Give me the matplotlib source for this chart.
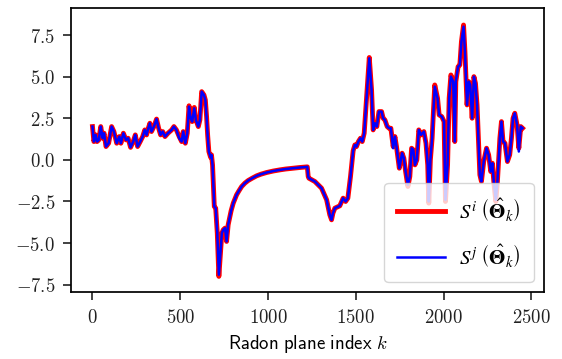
import matplotlib
matplotlib.use("Agg")
import matplotlib.pyplot as plt
from matplotlib.ticker import FuncFormatter, MultipleLocator

plt.rcParams["mathtext.fontset"] = "cm"

# Radon plane index and the two projected score curves
k = [0, 8, 18, 26, 36, 47, 58, 66, 77, 92, 109, 122, 138, 153, 162, 176, 191, 203,
     217, 232, 244, 257, 272, 286, 298, 308, 318, 327, 336, 350, 365, 377, 388, 400,
     413, 430, 451, 464, 478, 494, 508, 517, 529, 540, 550, 559, 568, 580, 589, 603,
     612, 622, 635, 643, 650, 656, 663, 673, 678, 684, 694, 702, 711, 720, 729, 737,
     745, 755, 764, 773, 779, 790, 802, 821, 835, 850, 868, 887, 910, 935, 960, 992,
     1030, 1068, 1100, 1143, 1180, 1224, 1229, 1233, 1267, 1305, 1334, 1352, 1362,
     1370, 1381, 1409, 1428, 1442, 1455, 1470, 1485, 1495, 1504, 1515, 1527, 1537,
     1548, 1561, 1577, 1590, 1599, 1609, 1620, 1632, 1647, 1656, 1666, 1679, 1690,
     1700, 1713, 1723, 1732, 1748, 1764, 1774, 1784, 1797, 1808, 1818, 1828, 1837,
     1848, 1859, 1872, 1888, 1900, 1910, 1916, 1925, 1935, 1950, 1966, 1975, 1990,
     2003, 2011, 2023, 2032, 2042, 2055, 2064, 2070, 2083, 2093, 2102, 2114, 2122,
     2131, 2134, 2144, 2152, 2163, 2173, 2182, 2191, 2201, 2207, 2216, 2229, 2245,
     2257, 2269, 2278, 2288, 2298, 2307, 2321, 2330, 2339, 2350, 2364, 2377, 2387,
     2396, 2406, 2419, 2429, 2440, 2450]

s_i = [2.0, 1.1, 1.5, 1.1, 1.2, 2.0, 1.3, 1.6, 0.8, 1.0, 2.0, 1.7, 1.0, 1.4, 1.0,
       1.6, 1.2, 1.3, 0.75, 1.1, 1.5, 0.8, 1.1, 1.4, 1.8, 1.5, 1.9, 2.2, 1.7, 2.0,
       2.45, 1.9, 1.5, 1.7, 1.4, 1.6, 1.8, 2.0, 1.8, 1.4, 1.1, 1.7, 1.0, 1.6, 3.25,
       2.5, 2.3, 3.15, 2.4, 2.0, 2.4, 4.1, 3.9, 3.6, 2.6, 1.5, 0.5, 0.15, 0.3, -0.3,
       -2.8, -2.9, -4.4, -7.0, -5.6, -4.4, -4.2, -4.1, -4.9, -3.9, -3.6, -3.05, -2.6,
       -2.1, -1.85, -1.6, -1.4, -1.24, -1.1, -0.96, -0.86, -0.76, -0.67, -0.6, -0.55,
       -0.5, -0.46, -0.42, -1.0, -1.1, -1.3, -1.7, -2.4, -3.3, -3.6, -3.2, -2.9,
       -2.76, -2.3, -2.5, -2.3, -1.0, 0.55, 0.9, 0.8, 1.1, 1.3, 1.1, 1.6, 3.6, 6.15,
       4.2, 1.8, 2.2, 2.0, 2.9, 2.9, 2.5, 2.4, 2.0, 1.9, 1.9, 0.8, 1.4, 0.8, -0.5,
       0.4, 0.1, -0.7, -1.6, -1.0, 0.7, 0.6, -0.3, 0.0, 1.8, 1.5, 1.7, 1.0, -0.3,
       -2.6, 0.0, 1.3, 4.5, 3.7, 2.7, 2.6, 2.3, -2.5, -0.3, 3.7, 5.1, 4.7, 1.1, 4.7,
       5.6, 5.7, 7.1, 8.1, 6.5, 4.1, 3.3, 4.7, 4.5, 2.5, 5.0, 4.6, 3.3, 0.7, -0.9,
       -1.3, -0.1, 0.7, 0.3, -0.7, -0.2, -1.5, -2.5, -1.3, 1.3, 2.3, 1.1, 1.0, -0.1,
       0.3, 1.3, 2.5, 2.8, 2.1, 0.7, 2.0, 1.9]

s_j = [2.0, 1.1, 1.5, 1.1, 1.2, 2.0, 1.3, 1.6, 0.8, 1.0, 2.0, 1.7, 1.0, 1.4, 1.0,
       1.6, 1.2, 1.3, 0.75, 1.1, 1.5, 0.8, 1.1, 1.4, 1.8, 1.5, 1.9, 2.2, 1.7, 2.0,
       2.45, 1.9, 1.5, 1.7, 1.4, 1.6, 1.8, 2.0, 1.8, 1.3, 1.1, 1.7, 1.0, 1.6, 3.2,
       2.5, 2.3, 3.1, 2.4, 2.0, 2.4, 4.1, 3.9, 3.6, 2.6, 1.5, 0.5, 0.15, 0.3, -0.3,
       -2.8, -2.9, -4.4, -6.9, -5.6, -4.4, -4.2, -4.1, -4.9, -3.9, -3.6, -3.05, -2.6,
       -2.1, -1.85, -1.6, -1.4, -1.24, -1.1, -0.96, -0.86, -0.76, -0.67, -0.6, -0.55,
       -0.5, -0.46, -0.42, -1.0, -1.1, -1.3, -1.7, -2.4, -3.3, -3.6, -3.2, -2.9,
       -2.76, -2.3, -2.5, -2.3, -1.0, 0.55, 0.9, 0.8, 1.1, 1.3, 1.1, 1.6, 3.6, 6.1,
       4.2, 1.8, 2.2, 2.0, 2.9, 2.9, 2.5, 2.4, 2.0, 1.9, 1.9, 0.7, 1.4, 0.8, -0.5,
       0.4, 0.1, -0.7, -1.5, -1.0, 0.7, 0.6, -0.3, 0.0, 1.8, 1.5, 1.7, 1.0, -0.3,
       -2.5, 0.0, 1.3, 4.4, 3.7, 2.7, 2.6, 2.3, -2.4, -0.3, 3.7, 5.0, 4.7, 1.1, 4.7,
       5.6, 5.7, 7.1, 8.0, 6.5, 4.1, 3.3, 4.7, 4.5, 2.5, 5.0, 4.6, 3.3, 0.7, -0.9,
       -1.3, -0.1, 0.7, 0.3, -0.7, -0.2, -1.5, -2.4, -1.3, 1.3, 2.3, 1.1, 1.0, -0.1,
       0.3, 1.3, 2.5, 2.8, 2.1, 0.5, 2.0, 1.9]

label_i = r"$S^{i}\;\left(\hat{\boldsymbol{\Theta}}_{k}\right)$"
label_j = r"$S^{j}\;\left(\hat{\boldsymbol{\Theta}}_{k}\right)$"

fig = plt.figure(figsize=(5.62, 3.59), dpi=100)
ax = fig.add_axes([0.1263, 0.186, 0.968 - 0.1263, 0.979 - 0.186])

ax.plot(k, s_i, color="red", lw=3.5, solid_joinstyle="round", label=label_i)
ax.plot(k, s_j, color="blue", lw=1.8, solid_joinstyle="round", label=label_j)

ax.set_xlim(-122.5, 2572.5)
ax.set_ylim(-7.95, 9.15)
ax.xaxis.set_major_locator(MultipleLocator(500))
ax.yaxis.set_major_locator(MultipleLocator(2.5))
ax.xaxis.set_major_formatter(FuncFormatter(lambda v, p: r"$%d$" % round(v)))
ax.yaxis.set_major_formatter(FuncFormatter(lambda v, p: r"$%.1f$" % v))
ax.tick_params(labelsize=13.5, length=5.5, width=1.2, pad=6, colors="#222222")
for sp in ax.spines.values():
    sp.set_linewidth(1.25)

ax.set_xlabel(r"$\mathsf{Radon\ plane\ index}\ k$", fontsize=13.5, labelpad=4)

leg = ax.legend(loc="lower right", fontsize=15, handlelength=2.3,
                handletextpad=0.7, labelspacing=0.95, borderpad=0.6,
                framealpha=0.8)
for t in leg.get_texts():
    t.set_math_fontfamily("stix")

fig.savefig("out.png", dpi=100)
